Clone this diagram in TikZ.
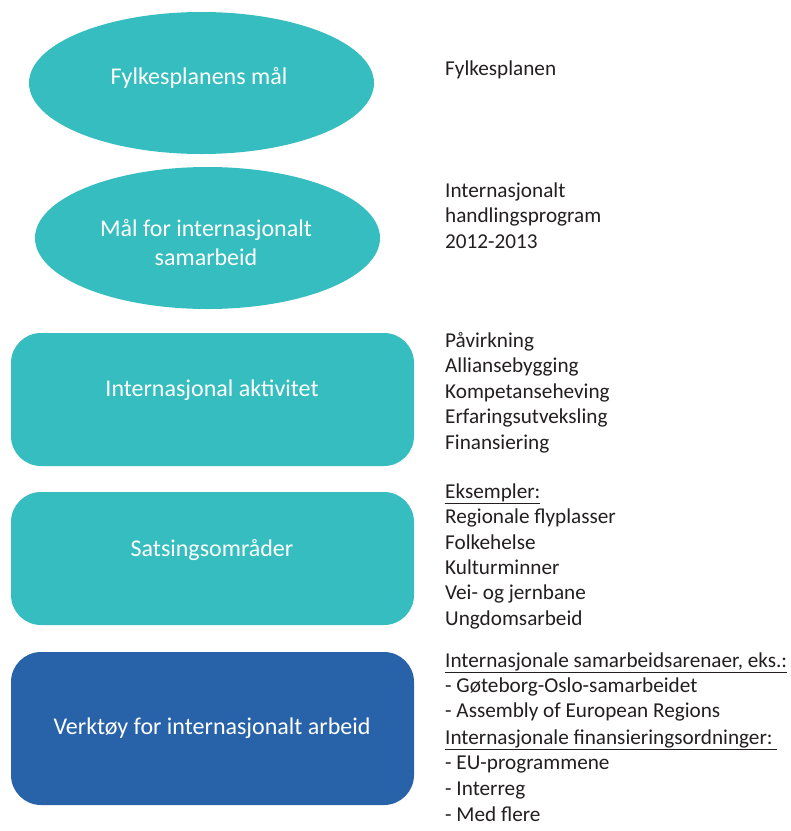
\documentclass[tikz,border=0pt]{standalone}
\usepackage{fontspec}
\setmainfont{Carlito}
\usetikzlibrary{shapes.geometric,backgrounds}
\definecolor{teal1}{HTML}{35BDBF}
\definecolor{blue1}{HTML}{2863A9}
\definecolor{txt}{HTML}{231F20}
\tikzset{
  ell/.style={ellipse, fill=teal1, draw=none, minimum width=345pt, minimum height=142pt, inner sep=0pt},
  rbox/.style={rectangle, rounded corners=30pt, draw=none, minimum width=403pt, minimum height=133pt, inner sep=0pt},
  conn/.style={draw=teal1, line width=8pt},
  boxtext/.style={text=white, font=\fontsize{24}{29}\selectfont, align=center, inner sep=0pt},
  side/.style={text=txt, font=\fontsize{21.2}{25.5}\selectfont, anchor=base west, inner sep=0pt},
}
\newcommand{\ul}[1]{\underline{#1}}
\begin{document}
\begin{tikzpicture}[x=1pt,y=-1pt]
\useasboundingbox[fill=white] (0,0) rectangle (791,831);
% shapes
\node[ell] (e1) at (201.5,83) {};
\node[ell] (e2) at (207.5,238) {};
\node[rbox, fill=teal1] (r1) at (212.5,399.5) {};
\node[rbox, fill=teal1] (r2) at (212.5,558.5) {};
\node[rbox, fill=blue1, minimum height=153pt] (v) at (212.5,728.5) {};
% box texts
\node[boxtext] (t1) at (199,78) {Fylkesplanens mål};
\node[boxtext] (t2) at (206,242.5) {Mål for internasjonalt\\samarbeid};
\node[boxtext] (t3) at (212,390) {Internasjonal aktivitet};
\node[boxtext] (t4) at (212,550) {Satsingsområder};
\node[boxtext] (t5) at (212,728) {Verktøy for internasjonalt arbeid};
% connectors
\begin{scope}[on background layer]
\draw[conn] (e1.center -| r1.center) -- (e2.center -| r1.center);
\draw[conn] (e2.center -| r1.center) -- (r1.center);
\draw[conn] (r1.center) -- (r2.center);
\draw[conn] (r2.center) -- (v.center);
\end{scope}
% side texts
\node[side] (s1) at (445,75) {Fylkesplanen};
\node[side] (s2) at (445,197) {Internasjonalt};
\node[side] (s3) at (445,222.5) {handlingsprogram};
\node[side] (s4) at (445,248) {2012-2013};
\node[side] (s5) at (445,347) {Påvirkning};
\node[side] (s6) at (445,372.5) {Alliansebygging};
\node[side] (s7) at (445,398) {Kompetanseheving};
\node[side] (s8) at (445,423.5) {Erfaringsutveksling};
\node[side] (s9) at (445,449) {Finansiering};
\node[side] (s10) at (445,498) {\ul{Eksempler:}};
\node[side] (s11) at (445,523.5) {Regionale flyplasser};
\node[side] (s12) at (445,549) {Folkehelse};
\node[side] (s13) at (445,574) {Kulturminner};
\node[side] (s14) at (445,599.5) {Vei- og jernbane};
\node[side] (s15) at (445,625) {Ungdomsarbeid};
\node[side] (s16) at (445,667) {\ul{Internasjonale samarbeidsarenaer, eks.:}};
\node[side] (s17) at (445,692) {- Gøteborg-Oslo-samarbeidet};
\node[side] (s18) at (445,717.5) {- Assembly of European Regions};
\node[side] (s19) at (445,744) {\ul{Internasjonale finansieringsordninger:\ }};
\node[side] (s20) at (445,769.5) {- EU-programmene};
\node[side] (s21) at (445,795) {- Interreg};
\node[side] (s22) at (445,821) {- Med flere};
\end{tikzpicture}
\end{document}
